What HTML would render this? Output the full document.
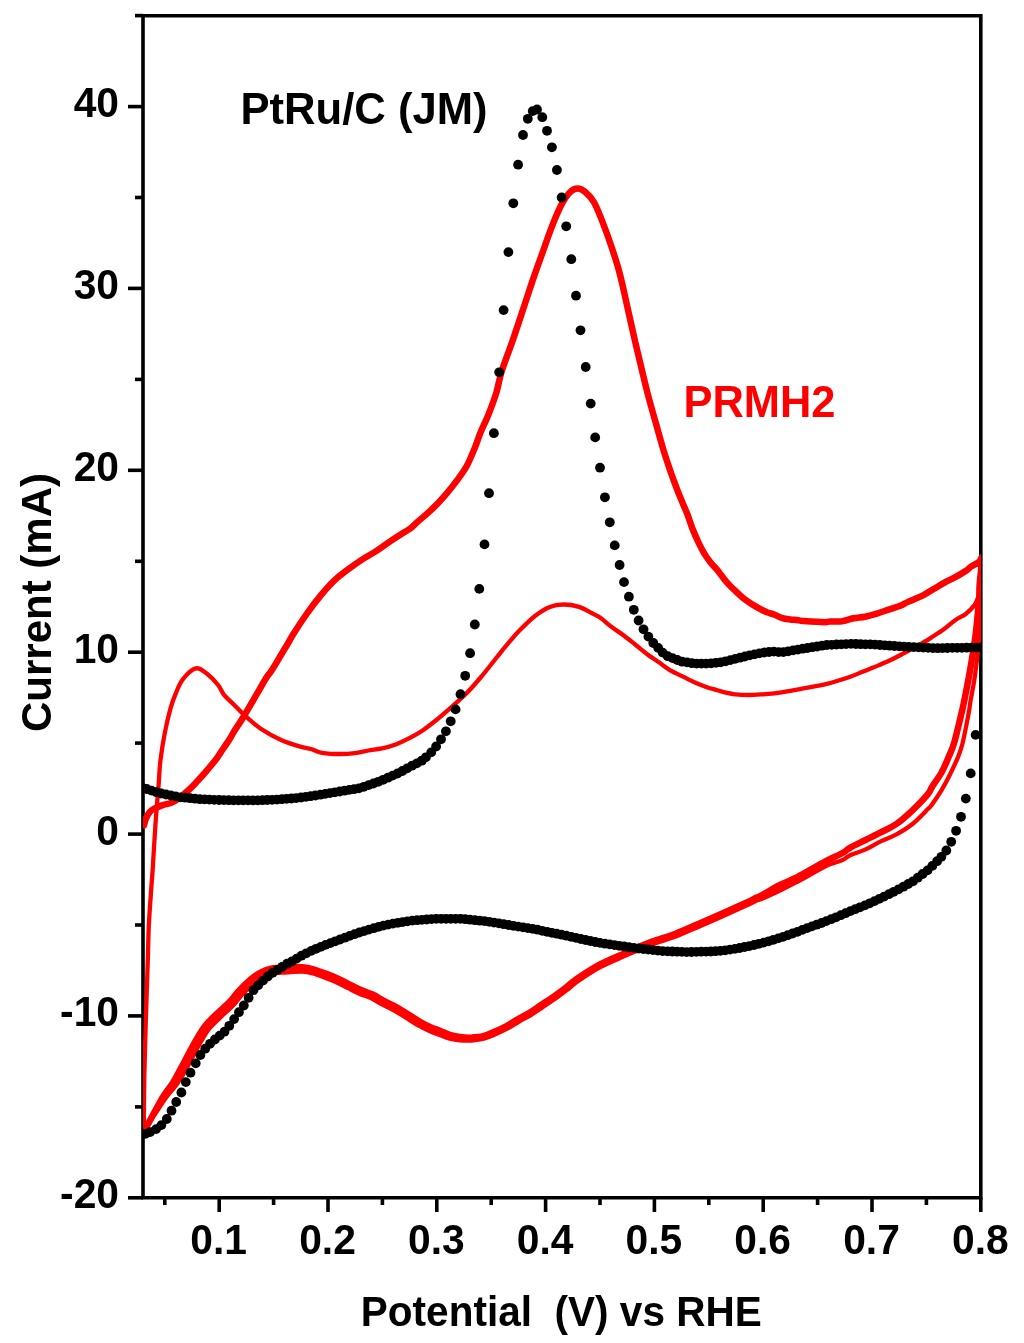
<!DOCTYPE html><html><head><meta charset="utf-8"><style>html,body{margin:0;padding:0;background:#fff;}svg{display:block;}text{font-family:"Liberation Sans",Arial,sans-serif;font-weight:bold;}</style></head><body>
<svg width="1024" height="1343" viewBox="0 0 1024 1343">
<rect width="1024" height="1343" fill="#fff"/>
<g stroke="#000" stroke-width="3.6" fill="none" stroke-linecap="butt">
<path d="M143,1197.8 V15.8 M141.2,15.8 H982.6 M980.8,14 V1197.8 M141.2,1197.8 H982.6"/>
<path d="M128.0,1197.8 H143"/>
<path d="M135.0,1106.9 H143"/>
<path d="M128.0,1015.9 H143"/>
<path d="M135.0,925.0 H143"/>
<path d="M128.0,834.1 H143"/>
<path d="M135.0,743.1 H143"/>
<path d="M128.0,652.2 H143"/>
<path d="M135.0,561.3 H143"/>
<path d="M128.0,470.3 H143"/>
<path d="M135.0,379.4 H143"/>
<path d="M128.0,288.4 H143"/>
<path d="M135.0,197.5 H143"/>
<path d="M128.0,106.6 H143"/>
<path d="M135.0,15.6 H143"/>
<path d="M164.8,1197.8 V1205.0"/>
<path d="M219.2,1197.8 V1212.0"/>
<path d="M273.6,1197.8 V1205.0"/>
<path d="M328.0,1197.8 V1212.0"/>
<path d="M382.4,1197.8 V1205.0"/>
<path d="M436.8,1197.8 V1212.0"/>
<path d="M491.2,1197.8 V1205.0"/>
<path d="M545.6,1197.8 V1212.0"/>
<path d="M600.0,1197.8 V1205.0"/>
<path d="M654.4,1197.8 V1212.0"/>
<path d="M708.8,1197.8 V1205.0"/>
<path d="M763.2,1197.8 V1212.0"/>
<path d="M817.6,1197.8 V1205.0"/>
<path d="M872.0,1197.8 V1212.0"/>
<path d="M926.4,1197.8 V1205.0"/>
<path d="M980.8,1197.8 V1212.0"/>
</g>
<defs><clipPath id="pc"><rect x="143" y="15.8" width="838" height="1182"/></clipPath></defs>
<g clip-path="url(#pc)">
<g fill="none" stroke="#ff0000" stroke-linejoin="round" stroke-linecap="round">
<path d="M143.9,825.4 C144.2,824.3 144.9,820.9 145.9,818.6 C146.9,816.3 148.2,813.6 149.8,811.8 C151.4,810.0 153.3,809.0 155.6,807.9 C157.9,806.8 160.5,805.9 163.4,804.9 C166.3,803.9 169.2,804.2 173.2,802.0 C177.1,799.8 183.1,795.0 187.1,791.5 C191.1,788.0 193.9,784.9 197.3,781.3 C200.7,777.6 204.4,773.4 207.6,769.6 C210.8,765.8 213.9,762.2 216.5,758.7 C219.1,755.2 221.0,751.9 223.3,748.5 C225.6,745.1 228.3,741.3 230.2,738.2 C232.1,735.1 232.8,733.3 234.9,730.0 C237.0,726.7 238.6,724.7 242.6,718.2 C246.6,711.7 254.8,697.5 258.7,690.9 C262.6,684.3 263.6,682.0 265.7,678.7 C267.8,675.4 269.3,673.9 271.1,671.2 C272.9,668.5 274.8,665.4 276.5,662.6 C278.2,659.8 279.7,657.2 281.3,654.5 C282.9,651.8 284.0,650.0 286.1,646.5 C288.2,643.0 290.2,639.1 293.7,633.5 C297.2,627.9 302.8,619.4 307.3,613.0 C311.9,606.6 316.4,600.7 321.0,595.2 C325.6,589.7 330.1,584.5 334.7,580.2 C339.3,575.9 343.8,572.6 348.4,569.2 C352.9,565.8 357.4,562.6 362.0,559.6 C366.6,556.6 371.1,554.4 375.7,551.4 C380.3,548.4 384.8,545.0 389.4,541.9 C393.9,538.8 399.5,535.2 403.0,533.0 C406.5,530.8 407.8,530.4 410.3,528.5 C412.8,526.6 414.5,524.6 418.1,521.4 C421.7,518.2 427.2,513.8 431.8,509.4 C436.4,505.0 441.3,499.7 445.5,494.8 C449.7,489.9 453.6,485.0 457.2,480.1 C460.8,475.2 464.1,470.9 467.0,465.5 C469.9,460.1 472.5,453.4 474.8,447.9 C477.1,442.4 478.3,437.8 480.6,432.3 C482.9,426.8 485.8,421.2 488.4,414.7 C491.0,408.2 494.1,400.3 496.2,393.2 C498.4,386.1 498.8,380.4 501.5,371.9 C504.2,363.3 508.6,352.3 512.2,341.9 C515.8,331.5 519.4,320.4 523.0,309.6 C526.6,298.9 530.1,287.8 533.7,277.4 C537.3,267.0 541.2,256.2 544.4,247.3 C547.6,238.4 550.1,230.8 553.0,223.7 C555.9,216.5 558.7,209.7 561.6,204.4 C564.5,199.1 567.5,194.7 570.2,192.0 C572.9,189.3 575.1,188.5 577.6,188.5 C580.1,188.5 582.6,189.7 585.3,192.0 C588.0,194.3 591.0,197.3 593.9,202.2 C596.8,207.1 599.5,214.4 602.4,221.6 C605.2,228.8 608.1,236.6 611.0,245.2 C613.9,253.8 616.9,262.7 619.6,273.1 C622.4,283.5 624.9,296.0 627.5,307.5 C630.1,319.0 632.8,331.5 635.2,341.9 C637.6,352.3 639.9,361.5 641.9,370.0 C643.9,378.5 645.2,384.2 647.5,393.0 C649.8,401.8 653.0,413.2 655.7,422.7 C658.4,432.2 661.1,442.2 663.5,450.1 C665.9,458.0 667.9,463.8 670.0,470.0 C672.1,476.2 674.4,482.2 676.4,487.6 C678.4,493.0 680.4,497.7 682.3,502.2 C684.1,506.7 685.9,510.3 687.5,514.5 C689.1,518.7 690.2,522.8 692.0,527.5 C693.8,532.2 696.5,538.2 698.5,542.5 C700.5,546.8 702.3,550.2 704.3,553.5 C706.2,556.8 708.2,559.4 710.2,562.0 C712.2,564.6 714.8,567.0 716.6,569.2 C718.5,571.4 719.4,572.9 721.3,575.3 C723.2,577.7 725.4,580.7 727.8,583.4 C730.2,586.1 733.0,588.8 735.6,591.2 C738.2,593.7 740.8,596.2 743.4,598.3 C746.0,600.4 748.6,602.1 751.2,603.8 C753.9,605.4 756.5,607.0 759.1,608.4 C761.7,609.8 764.3,611.2 766.9,612.3 C769.5,613.3 772.1,613.7 774.7,614.7 C777.3,615.7 779.9,617.4 782.5,618.2 C785.1,619.0 787.7,619.1 790.3,619.4 C792.9,619.7 795.9,619.9 798.1,620.2 C800.3,620.5 799.0,620.8 803.4,621.1 C807.8,621.4 820.1,622.2 824.5,622.2 C828.9,622.2 827.1,621.5 830.0,621.4 C832.9,621.3 837.8,621.9 841.7,621.4 C845.6,620.9 849.5,619.1 853.4,618.3 C857.3,617.5 861.3,617.5 865.2,616.7 C869.1,615.9 873.0,614.8 876.9,613.6 C880.8,612.4 884.7,611.0 888.6,609.7 C892.5,608.4 897.0,607.1 900.3,605.8 C903.5,604.5 904.3,603.6 908.1,601.9 C911.9,600.2 918.7,597.5 923.0,595.4 C927.3,593.2 930.1,591.1 933.7,589.0 C937.3,586.9 940.9,584.6 944.5,582.6 C948.1,580.6 951.6,579.2 955.2,577.2 C958.8,575.2 963.3,572.5 966.0,570.7 C968.7,568.9 969.2,567.8 971.3,566.4 C973.4,565.0 977.0,563.4 978.8,562.1 C980.6,560.8 981.9,554.7 982.0,558.5 C982.1,562.3 980.1,578.0 979.6,585.0 C979.1,592.0 979.8,591.7 979.0,600.6 C978.2,609.5 976.8,625.9 975.1,638.6 C973.4,651.3 970.7,666.4 968.9,676.6 C967.1,686.8 965.7,693.7 964.4,700.0 C963.1,706.3 962.9,707.6 961.2,714.6 C959.5,721.6 956.4,735.1 954.3,742.3 C952.2,749.5 950.5,752.5 948.4,757.6 C946.2,762.7 944.1,767.9 941.4,772.8 C938.7,777.7 934.2,783.4 932.0,786.9 C929.8,790.4 931.4,790.0 928.1,793.9 C924.9,797.8 917.7,805.3 912.5,810.3 C907.3,815.2 902.1,820.0 896.9,823.6 C891.7,827.2 886.5,829.5 881.2,832.2 C876.0,834.9 870.8,837.4 865.6,840.0 C860.4,842.6 853.9,845.6 850.0,847.8 C846.1,850.0 846.4,850.9 842.5,853.0 C838.6,855.1 832.1,858.0 826.9,860.7 C821.7,863.4 816.5,866.5 811.2,869.4 C806.0,872.3 800.8,875.4 795.6,878.0 C790.4,880.6 785.9,882.0 780.0,885.0 C774.1,888.0 763.9,894.2 760.0,896.2 C756.1,898.3 759.3,896.3 756.8,897.5 C754.4,898.6 751.0,900.5 745.2,903.3 C739.3,906.0 729.5,910.4 721.7,913.8 C713.9,917.3 706.1,920.7 698.3,924.0 C690.5,927.4 682.7,931.0 674.9,934.0 C667.1,937.0 659.8,938.7 651.4,941.9 C643.0,945.1 633.3,949.5 624.7,953.2 C616.0,957.0 607.6,960.3 599.6,964.6 C591.6,968.9 582.5,975.0 576.7,978.9 C571.0,982.9 568.9,985.4 565.0,988.3 C561.1,991.3 557.2,994.1 553.3,996.8 C549.4,999.6 545.4,1002.1 541.5,1004.7 C537.6,1007.3 533.8,1010.2 529.9,1012.6 C526.0,1015.0 522.1,1016.8 518.2,1019.1 C514.3,1021.3 510.4,1024.0 506.5,1026.1 C502.6,1028.2 498.8,1030.0 494.9,1031.6 C491.0,1033.3 487.1,1035.2 483.2,1036.2 C479.3,1037.2 475.5,1037.4 471.7,1037.6 C467.8,1037.7 463.6,1037.5 460.1,1037.1 C456.6,1036.7 454.0,1036.2 450.8,1035.2 C447.5,1034.2 443.9,1032.3 440.5,1030.9 C437.2,1029.6 433.9,1028.6 430.6,1027.2 C427.3,1025.7 424.5,1024.4 420.7,1022.2 C416.9,1020.1 412.0,1016.8 408.0,1014.3 C403.9,1011.7 400.1,1009.3 396.2,1007.1 C392.3,1005.0 388.4,1003.3 384.4,1001.2 C380.5,999.1 376.5,996.3 372.6,994.5 C368.7,992.6 364.8,991.8 360.9,990.1 C357.0,988.4 353.1,986.3 349.2,984.3 C345.4,982.4 341.4,980.2 337.5,978.4 C333.6,976.6 329.7,975.1 325.7,973.6 C321.8,972.2 317.6,970.6 313.8,969.5 C309.9,968.4 307.1,967.6 302.6,967.3 C298.1,966.9 292.1,967.1 286.8,967.4 C281.5,967.6 275.2,967.8 270.9,968.6 C266.6,969.4 264.4,970.5 261.1,972.3 C257.8,974.0 255.0,975.9 251.2,979.0 C247.5,982.2 242.2,987.3 238.6,991.2 C235.0,995.0 233.1,998.3 229.5,1002.1 C225.9,1005.8 221.2,1009.7 217.1,1013.6 C213.1,1017.5 208.7,1021.4 205.3,1025.7 C201.9,1029.9 199.8,1034.0 196.8,1039.0 C193.9,1044.0 190.3,1050.7 187.6,1055.8 C184.9,1060.8 182.9,1064.7 180.5,1069.1 C178.1,1073.6 175.8,1078.1 173.0,1082.7 C170.1,1087.2 166.2,1091.8 163.3,1096.4 C160.4,1100.9 158.1,1105.5 155.6,1110.0 C153.1,1114.5 149.8,1120.7 148.2,1123.6 C146.7,1126.5 146.7,1126.8 146.4,1127.4" stroke-width="6.5"/>
<path d="M143.8,1127.0 C143.9,1118.7 144.0,1095.3 144.3,1077.2 C144.7,1059.1 145.3,1038.1 145.9,1018.6 C146.5,999.1 147.3,975.4 147.8,960.0 C148.3,944.6 148.3,936.5 148.8,926.0 C149.3,915.5 150.0,906.1 150.7,896.7 C151.3,887.3 152.0,879.2 152.7,869.4 C153.3,859.6 153.9,848.2 154.6,838.1 C155.2,828.0 155.9,817.6 156.6,808.8 C157.3,800.0 157.9,793.5 158.6,785.4 C159.2,777.3 159.4,768.9 160.5,760.0 C161.6,751.1 163.3,740.5 165.0,731.9 C166.7,723.3 168.7,714.9 170.5,708.4 C172.3,701.9 173.9,697.7 176.0,692.8 C178.1,687.9 179.7,683.2 183.0,679.1 C186.3,675.0 191.8,669.4 195.7,668.4 C199.6,667.4 202.7,670.5 206.4,673.3 C210.1,676.1 215.2,681.4 218.1,685.0 C221.0,688.6 221.4,691.5 224.0,694.8 C226.6,698.0 230.2,700.9 233.8,704.5 C237.3,708.1 240.9,712.2 245.5,716.2 C250.1,720.3 255.3,725.1 261.1,729.0 C267.0,732.9 274.1,736.8 280.6,739.7 C287.1,742.6 295.1,745.1 300.2,746.6 C305.2,748.1 307.3,748.0 310.9,749.0 C314.5,750.0 316.9,752.0 321.9,752.8 C326.9,753.6 335.5,754.0 341.0,754.0 C346.5,754.0 350.1,753.7 354.7,753.1 C359.3,752.5 363.8,751.3 368.4,750.5 C372.9,749.7 377.4,749.3 382.0,748.3 C386.6,747.3 391.1,746.1 395.7,744.4 C400.3,742.7 404.8,740.6 409.4,738.2 C413.9,735.8 418.4,733.3 423.0,730.2 C427.6,727.1 431.6,723.9 436.7,719.8 C441.8,715.7 448.2,710.0 453.3,705.5 C458.4,701.0 462.4,697.5 467.0,692.8 C471.6,688.1 475.7,683.3 480.6,677.5 C485.5,671.7 492.0,663.3 496.2,658.0 C500.5,652.7 502.1,650.5 506.0,645.9 C509.9,641.3 514.8,635.3 519.7,630.3 C524.6,625.3 530.3,619.6 535.3,615.7 C540.3,611.8 545.1,608.8 549.8,606.9 C554.5,605.0 558.5,604.5 563.4,604.5 C568.3,604.5 574.5,605.5 579.1,606.9 C583.7,608.3 587.3,610.9 590.8,612.7 C594.3,614.5 596.5,615.2 600.0,617.6 C603.5,620.0 607.8,624.1 611.7,627.0 C615.6,629.9 619.5,632.3 623.4,635.2 C627.3,638.1 631.3,641.4 635.2,644.5 C639.1,647.6 643.0,651.0 646.9,653.9 C650.8,656.8 654.7,659.4 658.6,662.1 C662.5,664.8 666.4,667.9 670.3,670.3 C674.2,672.6 678.1,674.2 682.0,676.2 C685.9,678.2 689.8,680.2 693.8,682.0 C697.7,683.8 701.6,685.3 705.5,686.7 C709.4,688.1 714.5,689.4 717.2,690.2 C720.0,691.0 718.9,690.9 722.0,691.6 C725.1,692.3 731.1,693.7 735.7,694.3 C740.3,694.9 744.9,695.0 749.4,695.0 C753.9,695.0 758.5,694.6 763.0,694.3 C767.5,694.0 773.9,693.3 776.7,693.0 C779.5,692.7 775.5,693.4 780.0,692.6 C784.5,691.8 795.6,689.9 803.4,688.4 C811.2,686.9 819.1,685.7 826.9,683.8 C834.7,681.8 844.4,678.7 850.3,676.7 C856.1,674.7 858.1,673.6 862.0,672.0 C865.9,670.4 870.8,668.5 873.8,667.3 C876.8,666.1 877.2,665.9 880.0,664.7 C882.8,663.5 887.1,661.7 890.7,660.0 C894.3,658.3 897.9,656.4 901.5,654.5 C905.1,652.6 908.6,650.8 912.2,648.8 C915.8,646.8 919.4,644.8 923.0,642.7 C926.6,640.6 930.1,638.3 933.7,636.0 C937.3,633.7 940.9,631.4 944.5,628.8 C948.1,626.1 951.6,622.7 955.2,620.2 C958.8,617.7 962.8,616.2 966.0,613.7 C969.2,611.2 972.2,608.1 974.5,605.1 C976.8,602.1 978.6,594.9 979.5,596.0 C980.4,597.1 979.8,604.9 979.8,612.0 C979.8,619.1 980.0,627.8 979.2,638.6 C978.4,649.4 976.2,666.4 974.8,676.6 C973.4,686.8 971.8,693.7 970.7,700.0 C969.6,706.3 969.8,707.4 968.4,714.6 C967.0,721.9 964.3,736.3 962.5,743.5 C960.7,750.7 959.9,752.3 957.8,757.6 C955.6,762.9 952.3,769.7 949.6,775.2 C946.9,780.7 944.3,785.5 941.4,790.4 C938.5,795.3 934.2,801.4 932.0,804.5 C929.8,807.6 931.4,805.5 928.1,808.8 C924.9,812.0 917.7,819.8 912.5,824.0 C907.3,828.2 902.1,831.2 896.9,834.1 C891.7,837.0 886.5,838.6 881.2,841.1 C876.0,843.6 870.8,847.0 865.6,849.4 C860.4,851.8 853.9,853.4 850.0,855.2 C846.1,857.0 846.4,858.3 842.5,860.0 C838.6,861.7 832.1,863.1 826.9,865.5 C821.7,867.9 816.5,871.2 811.2,874.1 C806.0,877.0 800.8,880.0 795.6,882.7 C790.4,885.4 785.9,887.7 780.0,890.5 C774.1,893.3 763.7,898.0 760.0,899.5 C756.3,901.0 760.3,898.8 758.0,899.8 C755.7,900.8 752.1,902.9 746.3,905.6 C740.4,908.3 730.5,912.8 722.7,916.2 C714.9,919.7 707.1,923.1 699.3,926.4 C691.5,929.8 683.7,933.5 675.8,936.5 C668.0,939.4 660.7,941.2 652.3,944.4 C644.0,947.6 634.3,951.9 625.7,955.6 C617.1,959.4 608.8,962.6 600.8,966.9 C592.9,971.1 583.9,977.1 578.2,981.1 C572.5,985.0 570.5,987.4 566.6,990.4 C562.7,993.4 558.7,996.2 554.8,999.0 C550.8,1001.7 546.9,1004.2 543.0,1006.9 C539.1,1009.5 535.1,1012.4 531.2,1014.8 C527.3,1017.2 523.4,1019.1 519.5,1021.3 C515.6,1023.6 511.7,1026.2 507.7,1028.4 C503.8,1030.5 499.9,1032.3 495.9,1034.0 C491.9,1035.8 487.9,1037.6 483.8,1038.7 C479.8,1039.8 475.8,1040.2 471.8,1040.5 C467.8,1040.8 463.5,1040.7 459.8,1040.4 C456.1,1040.1 453.2,1039.6 449.7,1038.7 C446.3,1037.7 442.5,1036.0 439.1,1034.7 C435.6,1033.4 432.4,1032.3 429.0,1030.8 C425.6,1029.3 422.6,1027.9 418.7,1025.7 C414.9,1023.5 409.9,1020.2 405.9,1017.7 C401.8,1015.2 398.1,1012.8 394.3,1010.6 C390.4,1008.5 386.4,1006.8 382.5,1004.7 C378.7,1002.7 374.8,999.9 370.9,998.1 C367.0,996.3 363.2,995.4 359.3,993.7 C355.4,992.0 351.4,989.8 347.5,987.9 C343.6,985.9 339.7,983.8 335.8,982.0 C332.0,980.3 328.2,978.8 324.3,977.4 C320.5,975.9 316.4,974.3 312.7,973.4 C309.1,972.4 306.6,971.8 302.3,971.6 C298.1,971.5 292.1,972.0 287.1,972.3 C282.0,972.7 275.8,972.8 271.8,973.5 C267.9,974.2 266.3,975.1 263.4,976.7 C260.5,978.2 258.0,979.9 254.5,982.8 C250.9,985.8 245.8,990.8 242.2,994.6 C238.7,998.4 236.7,1001.7 233.1,1005.5 C229.5,1009.3 224.6,1013.3 220.6,1017.2 C216.6,1021.1 212.4,1024.7 209.2,1028.8 C205.9,1032.9 204.0,1036.7 201.1,1041.5 C198.3,1046.4 194.7,1053.1 192.0,1058.2 C189.3,1063.2 187.5,1067.1 184.9,1071.6 C182.2,1076.1 179.5,1080.5 176.3,1084.9 C173.1,1089.3 168.9,1093.7 165.8,1098.0 C162.6,1102.3 160.0,1106.6 157.2,1110.9 C154.3,1115.2 150.5,1121.1 148.8,1123.9 C147.1,1126.7 147.1,1127.0 146.7,1127.6" stroke-width="4.3"/>
</g>
<g fill="#000"><circle cx="141.9" cy="787.5" r="4.9"/><circle cx="146.7" cy="789.0" r="4.9"/><circle cx="151.5" cy="790.6" r="4.9"/><circle cx="156.4" cy="792.2" r="4.9"/><circle cx="161.2" cy="793.5" r="4.9"/><circle cx="166.0" cy="794.5" r="4.9"/><circle cx="170.8" cy="795.5" r="4.9"/><circle cx="175.7" cy="796.4" r="4.9"/><circle cx="180.5" cy="797.3" r="4.9"/><circle cx="185.3" cy="797.7" r="4.9"/><circle cx="190.1" cy="798.2" r="4.9"/><circle cx="194.9" cy="798.7" r="4.9"/><circle cx="199.8" cy="799.2" r="4.9"/><circle cx="204.6" cy="799.4" r="4.9"/><circle cx="209.4" cy="799.6" r="4.9"/><circle cx="214.2" cy="799.8" r="4.9"/><circle cx="219.1" cy="800.0" r="4.9"/><circle cx="223.9" cy="800.1" r="4.9"/><circle cx="228.7" cy="800.2" r="4.9"/><circle cx="233.5" cy="800.3" r="4.9"/><circle cx="238.4" cy="800.4" r="4.9"/><circle cx="243.2" cy="800.4" r="4.9"/><circle cx="248.0" cy="800.4" r="4.9"/><circle cx="252.8" cy="800.4" r="4.9"/><circle cx="257.7" cy="800.4" r="4.9"/><circle cx="262.5" cy="800.2" r="4.9"/><circle cx="267.3" cy="800.0" r="4.9"/><circle cx="272.1" cy="799.8" r="4.9"/><circle cx="276.9" cy="799.6" r="4.9"/><circle cx="281.8" cy="799.2" r="4.9"/><circle cx="286.6" cy="798.8" r="4.9"/><circle cx="291.4" cy="798.5" r="4.9"/><circle cx="296.2" cy="798.1" r="4.9"/><circle cx="301.1" cy="797.5" r="4.9"/><circle cx="305.9" cy="796.8" r="4.9"/><circle cx="310.7" cy="796.2" r="4.9"/><circle cx="315.5" cy="795.5" r="4.9"/><circle cx="320.4" cy="794.7" r="4.9"/><circle cx="325.2" cy="793.9" r="4.9"/><circle cx="330.0" cy="793.1" r="4.9"/><circle cx="334.8" cy="792.3" r="4.9"/><circle cx="339.7" cy="791.5" r="4.9"/><circle cx="344.5" cy="790.7" r="4.9"/><circle cx="349.3" cy="789.9" r="4.9"/><circle cx="354.1" cy="789.2" r="4.9"/><circle cx="358.9" cy="788.4" r="4.9"/><circle cx="363.8" cy="786.8" r="4.9"/><circle cx="368.6" cy="785.1" r="4.9"/><circle cx="373.4" cy="783.5" r="4.9"/><circle cx="378.2" cy="781.8" r="4.9"/><circle cx="383.1" cy="779.8" r="4.9"/><circle cx="387.9" cy="777.7" r="4.9"/><circle cx="392.7" cy="775.6" r="4.9"/><circle cx="397.5" cy="773.5" r="4.9"/><circle cx="402.4" cy="771.0" r="4.9"/><circle cx="407.2" cy="768.3" r="4.9"/><circle cx="412.0" cy="765.7" r="4.9"/><circle cx="416.8" cy="763.4" r="4.9"/><circle cx="421.7" cy="760.7" r="4.9"/><circle cx="667.7" cy="656.2" r="4.9"/><circle cx="672.5" cy="658.1" r="4.9"/><circle cx="677.3" cy="660.0" r="4.9"/><circle cx="682.1" cy="661.7" r="4.9"/><circle cx="687.0" cy="662.4" r="4.9"/><circle cx="691.8" cy="663.2" r="4.9"/><circle cx="696.6" cy="663.6" r="4.9"/><circle cx="701.4" cy="663.6" r="4.9"/><circle cx="706.2" cy="663.6" r="4.9"/><circle cx="711.1" cy="663.3" r="4.9"/><circle cx="715.9" cy="662.8" r="4.9"/><circle cx="720.7" cy="662.3" r="4.9"/><circle cx="725.5" cy="661.3" r="4.9"/><circle cx="730.4" cy="660.1" r="4.9"/><circle cx="735.2" cy="658.9" r="4.9"/><circle cx="740.0" cy="657.7" r="4.9"/><circle cx="744.8" cy="656.5" r="4.9"/><circle cx="749.7" cy="655.3" r="4.9"/><circle cx="754.5" cy="654.4" r="4.9"/><circle cx="759.3" cy="653.4" r="4.9"/><circle cx="764.1" cy="652.5" r="4.9"/><circle cx="769.0" cy="652.0" r="4.9"/><circle cx="773.8" cy="651.6" r="4.9"/><circle cx="778.6" cy="652.1" r="4.9"/><circle cx="783.4" cy="652.1" r="4.9"/><circle cx="788.2" cy="651.3" r="4.9"/><circle cx="793.1" cy="650.4" r="4.9"/><circle cx="797.9" cy="649.6" r="4.9"/><circle cx="802.7" cy="648.7" r="4.9"/><circle cx="807.5" cy="648.0" r="4.9"/><circle cx="812.4" cy="647.2" r="4.9"/><circle cx="817.2" cy="646.5" r="4.9"/><circle cx="822.0" cy="645.7" r="4.9"/><circle cx="826.8" cy="645.0" r="4.9"/><circle cx="831.7" cy="644.8" r="4.9"/><circle cx="836.5" cy="644.5" r="4.9"/><circle cx="841.3" cy="644.3" r="4.9"/><circle cx="846.1" cy="644.1" r="4.9"/><circle cx="851.0" cy="643.9" r="4.9"/><circle cx="855.8" cy="644.0" r="4.9"/><circle cx="860.6" cy="644.2" r="4.9"/><circle cx="865.4" cy="644.3" r="4.9"/><circle cx="870.3" cy="644.4" r="4.9"/><circle cx="875.1" cy="644.6" r="4.9"/><circle cx="879.9" cy="645.0" r="4.9"/><circle cx="884.7" cy="645.3" r="4.9"/><circle cx="889.5" cy="645.7" r="4.9"/><circle cx="894.4" cy="646.0" r="4.9"/><circle cx="899.2" cy="646.4" r="4.9"/><circle cx="904.0" cy="646.6" r="4.9"/><circle cx="908.8" cy="646.9" r="4.9"/><circle cx="913.7" cy="647.1" r="4.9"/><circle cx="918.5" cy="647.4" r="4.9"/><circle cx="923.3" cy="647.6" r="4.9"/><circle cx="928.1" cy="647.8" r="4.9"/><circle cx="933.0" cy="648.1" r="4.9"/><circle cx="937.8" cy="648.2" r="4.9"/><circle cx="942.6" cy="648.1" r="4.9"/><circle cx="947.4" cy="648.0" r="4.9"/><circle cx="952.3" cy="647.9" r="4.9"/><circle cx="957.1" cy="647.8" r="4.9"/><circle cx="961.9" cy="647.8" r="4.9"/><circle cx="966.7" cy="647.7" r="4.9"/><circle cx="971.5" cy="647.6" r="4.9"/><circle cx="976.4" cy="647.6" r="4.9"/><circle cx="981.2" cy="647.5" r="4.9"/><circle cx="425.9" cy="757.3" r="4.9"/><circle cx="431.2" cy="752.4" r="4.9"/><circle cx="436.1" cy="746.5" r="4.9"/><circle cx="441.0" cy="739.3" r="4.9"/><circle cx="445.9" cy="731.3" r="4.9"/><circle cx="450.7" cy="721.3" r="4.9"/><circle cx="455.6" cy="709.4" r="4.9"/><circle cx="460.5" cy="694.2" r="4.9"/><circle cx="465.2" cy="675.8" r="4.9"/><circle cx="470.1" cy="653.2" r="4.9"/><circle cx="474.8" cy="624.5" r="4.9"/><circle cx="479.3" cy="588.9" r="4.9"/><circle cx="484.5" cy="544.4" r="4.9"/><circle cx="489.0" cy="493.2" r="4.9"/><circle cx="493.9" cy="433.2" r="4.9"/><circle cx="499.2" cy="372.3" r="4.9"/><circle cx="503.6" cy="310.1" r="4.9"/><circle cx="508.4" cy="252.1" r="4.9"/><circle cx="513.3" cy="203.3" r="4.9"/><circle cx="518.1" cy="164.7" r="4.9"/><circle cx="523.0" cy="135.0" r="4.9"/><circle cx="527.8" cy="118.8" r="4.9"/><circle cx="532.7" cy="111.1" r="4.9"/><circle cx="537.0" cy="109.5" r="4.9"/><circle cx="542.3" cy="117.2" r="4.9"/><circle cx="547.0" cy="130.8" r="4.9"/><circle cx="551.9" cy="147.3" r="4.9"/><circle cx="556.9" cy="170.0" r="4.9"/><circle cx="561.6" cy="197.5" r="4.9"/><circle cx="566.2" cy="226.3" r="4.9"/><circle cx="571.3" cy="259.2" r="4.9"/><circle cx="576.0" cy="295.7" r="4.9"/><circle cx="580.5" cy="330.3" r="4.9"/><circle cx="585.7" cy="367.0" r="4.9"/><circle cx="590.7" cy="403.6" r="4.9"/><circle cx="595.2" cy="437.4" r="4.9"/><circle cx="600.0" cy="467.7" r="4.9"/><circle cx="604.9" cy="497.3" r="4.9"/><circle cx="609.8" cy="522.3" r="4.9"/><circle cx="614.7" cy="545.4" r="4.9"/><circle cx="619.6" cy="565.0" r="4.9"/><circle cx="624.0" cy="582.1" r="4.9"/><circle cx="628.9" cy="596.7" r="4.9"/><circle cx="633.8" cy="609.8" r="4.9"/><circle cx="638.6" cy="620.5" r="4.9"/><circle cx="643.5" cy="629.3" r="4.9"/><circle cx="648.4" cy="636.6" r="4.9"/><circle cx="653.3" cy="643.0" r="4.9"/><circle cx="658.2" cy="647.9" r="4.9"/><circle cx="662.6" cy="652.6" r="4.9"/><circle cx="937.1" cy="861.2" r="4.9"/><circle cx="932.3" cy="865.9" r="4.9"/><circle cx="927.5" cy="870.4" r="4.9"/><circle cx="922.6" cy="874.0" r="4.9"/><circle cx="917.8" cy="877.7" r="4.9"/><circle cx="913.0" cy="881.3" r="4.9"/><circle cx="908.2" cy="884.0" r="4.9"/><circle cx="903.4" cy="886.7" r="4.9"/><circle cx="898.6" cy="889.3" r="4.9"/><circle cx="893.7" cy="891.8" r="4.9"/><circle cx="888.9" cy="894.2" r="4.9"/><circle cx="884.1" cy="896.6" r="4.9"/><circle cx="879.3" cy="898.9" r="4.9"/><circle cx="874.5" cy="901.1" r="4.9"/><circle cx="869.7" cy="903.3" r="4.9"/><circle cx="864.9" cy="905.4" r="4.9"/><circle cx="860.0" cy="907.3" r="4.9"/><circle cx="855.2" cy="909.2" r="4.9"/><circle cx="850.4" cy="911.1" r="4.9"/><circle cx="845.6" cy="913.2" r="4.9"/><circle cx="840.8" cy="915.2" r="4.9"/><circle cx="836.0" cy="917.3" r="4.9"/><circle cx="831.2" cy="919.2" r="4.9"/><circle cx="826.3" cy="921.1" r="4.9"/><circle cx="821.5" cy="923.0" r="4.9"/><circle cx="816.7" cy="924.7" r="4.9"/><circle cx="811.9" cy="926.4" r="4.9"/><circle cx="807.1" cy="928.1" r="4.9"/><circle cx="802.3" cy="929.9" r="4.9"/><circle cx="797.5" cy="931.8" r="4.9"/><circle cx="792.6" cy="933.5" r="4.9"/><circle cx="787.8" cy="935.2" r="4.9"/><circle cx="783.0" cy="936.9" r="4.9"/><circle cx="778.2" cy="938.4" r="4.9"/><circle cx="773.4" cy="939.8" r="4.9"/><circle cx="768.6" cy="941.3" r="4.9"/><circle cx="763.7" cy="942.6" r="4.9"/><circle cx="758.9" cy="943.8" r="4.9"/><circle cx="754.1" cy="945.0" r="4.9"/><circle cx="749.3" cy="946.1" r="4.9"/><circle cx="744.5" cy="947.0" r="4.9"/><circle cx="739.7" cy="948.0" r="4.9"/><circle cx="734.9" cy="948.9" r="4.9"/><circle cx="730.0" cy="949.6" r="4.9"/><circle cx="725.2" cy="950.3" r="4.9"/><circle cx="720.4" cy="950.9" r="4.9"/><circle cx="715.6" cy="951.2" r="4.9"/><circle cx="710.8" cy="951.5" r="4.9"/><circle cx="706.0" cy="951.6" r="4.9"/><circle cx="701.2" cy="951.7" r="4.9"/><circle cx="696.3" cy="951.9" r="4.9"/><circle cx="691.5" cy="952.0" r="4.9"/><circle cx="686.7" cy="952.1" r="4.9"/><circle cx="681.9" cy="951.9" r="4.9"/><circle cx="677.1" cy="951.7" r="4.9"/><circle cx="672.3" cy="951.5" r="4.9"/><circle cx="667.5" cy="951.4" r="4.9"/><circle cx="662.6" cy="951.1" r="4.9"/><circle cx="657.8" cy="950.6" r="4.9"/><circle cx="653.0" cy="950.1" r="4.9"/><circle cx="648.2" cy="949.5" r="4.9"/><circle cx="643.4" cy="949.0" r="4.9"/><circle cx="638.6" cy="948.5" r="4.9"/><circle cx="633.7" cy="947.9" r="4.9"/><circle cx="628.9" cy="947.2" r="4.9"/><circle cx="624.1" cy="946.5" r="4.9"/><circle cx="619.3" cy="945.9" r="4.9"/><circle cx="614.5" cy="945.1" r="4.9"/><circle cx="609.7" cy="944.4" r="4.9"/><circle cx="604.9" cy="943.7" r="4.9"/><circle cx="600.0" cy="942.9" r="4.9"/><circle cx="595.2" cy="942.0" r="4.9"/><circle cx="590.4" cy="941.0" r="4.9"/><circle cx="585.6" cy="940.0" r="4.9"/><circle cx="580.8" cy="939.0" r="4.9"/><circle cx="576.0" cy="937.9" r="4.9"/><circle cx="571.2" cy="936.8" r="4.9"/><circle cx="566.3" cy="935.7" r="4.9"/><circle cx="561.5" cy="934.7" r="4.9"/><circle cx="556.7" cy="933.7" r="4.9"/><circle cx="551.9" cy="932.8" r="4.9"/><circle cx="547.1" cy="931.8" r="4.9"/><circle cx="542.3" cy="930.9" r="4.9"/><circle cx="537.5" cy="929.7" r="4.9"/><circle cx="532.6" cy="928.9" r="4.9"/><circle cx="527.8" cy="928.1" r="4.9"/><circle cx="523.0" cy="927.3" r="4.9"/><circle cx="518.2" cy="926.6" r="4.9"/><circle cx="513.4" cy="925.8" r="4.9"/><circle cx="508.6" cy="925.0" r="4.9"/><circle cx="503.7" cy="924.2" r="4.9"/><circle cx="498.9" cy="923.4" r="4.9"/><circle cx="494.1" cy="922.6" r="4.9"/><circle cx="489.3" cy="921.8" r="4.9"/><circle cx="484.5" cy="921.1" r="4.9"/><circle cx="479.7" cy="920.7" r="4.9"/><circle cx="474.9" cy="920.2" r="4.9"/><circle cx="470.0" cy="919.7" r="4.9"/><circle cx="465.2" cy="919.2" r="4.9"/><circle cx="460.4" cy="918.8" r="4.9"/><circle cx="455.6" cy="918.8" r="4.9"/><circle cx="450.8" cy="918.8" r="4.9"/><circle cx="446.0" cy="918.8" r="4.9"/><circle cx="441.2" cy="918.8" r="4.9"/><circle cx="436.3" cy="918.8" r="4.9"/><circle cx="431.5" cy="919.1" r="4.9"/><circle cx="426.7" cy="919.5" r="4.9"/><circle cx="421.9" cy="919.9" r="4.9"/><circle cx="417.1" cy="920.2" r="4.9"/><circle cx="412.3" cy="920.6" r="4.9"/><circle cx="407.5" cy="921.3" r="4.9"/><circle cx="402.6" cy="922.1" r="4.9"/><circle cx="397.8" cy="922.8" r="4.9"/><circle cx="393.0" cy="923.6" r="4.9"/><circle cx="388.2" cy="924.6" r="4.9"/><circle cx="383.4" cy="925.6" r="4.9"/><circle cx="378.6" cy="926.9" r="4.9"/><circle cx="373.8" cy="928.2" r="4.9"/><circle cx="368.9" cy="929.6" r="4.9"/><circle cx="364.1" cy="931.1" r="4.9"/><circle cx="359.3" cy="932.5" r="4.9"/><circle cx="354.5" cy="934.2" r="4.9"/><circle cx="349.7" cy="935.9" r="4.9"/><circle cx="344.9" cy="937.7" r="4.9"/><circle cx="340.0" cy="939.5" r="4.9"/><circle cx="335.2" cy="941.3" r="4.9"/><circle cx="330.4" cy="943.1" r="4.9"/><circle cx="325.6" cy="944.9" r="4.9"/><circle cx="320.8" cy="946.9" r="4.9"/><circle cx="316.0" cy="948.8" r="4.9"/><circle cx="311.2" cy="950.9" r="4.9"/><circle cx="306.3" cy="953.3" r="4.9"/><circle cx="301.5" cy="955.7" r="4.9"/><circle cx="296.7" cy="958.6" r="4.9"/><circle cx="291.9" cy="961.5" r="4.9"/><circle cx="287.1" cy="963.7" r="4.9"/><circle cx="282.3" cy="966.8" r="4.9"/><circle cx="277.5" cy="969.8" r="4.9"/><circle cx="272.6" cy="972.8" r="4.9"/><circle cx="267.8" cy="976.5" r="4.9"/><circle cx="263.0" cy="980.6" r="4.9"/><circle cx="258.2" cy="985.3" r="4.9"/><circle cx="253.4" cy="990.2" r="4.9"/><circle cx="248.6" cy="997.8" r="4.9"/><circle cx="243.8" cy="1005.5" r="4.9"/><circle cx="238.9" cy="1012.2" r="4.9"/><circle cx="234.1" cy="1019.1" r="4.9"/><circle cx="229.3" cy="1025.8" r="4.9"/><circle cx="224.5" cy="1031.7" r="4.9"/><circle cx="219.7" cy="1035.6" r="4.9"/><circle cx="214.9" cy="1039.5" r="4.9"/><circle cx="210.0" cy="1043.8" r="4.9"/><circle cx="205.2" cy="1048.7" r="4.9"/><circle cx="975.6" cy="734.9" r="4.9"/><circle cx="970.7" cy="773.4" r="4.9"/><circle cx="965.8" cy="798.6" r="4.9"/><circle cx="961.0" cy="816.8" r="4.9"/><circle cx="956.1" cy="830.8" r="4.9"/><circle cx="951.2" cy="841.8" r="4.9"/><circle cx="946.3" cy="850.5" r="4.9"/><circle cx="941.4" cy="856.8" r="4.9"/><circle cx="200.4" cy="1055.0" r="4.9"/><circle cx="195.7" cy="1063.3" r="4.9"/><circle cx="190.5" cy="1072.7" r="4.9"/><circle cx="185.8" cy="1082.1" r="4.9"/><circle cx="181.4" cy="1092.5" r="4.9"/><circle cx="176.2" cy="1102.0" r="4.9"/><circle cx="171.5" cy="1110.7" r="4.9"/><circle cx="166.8" cy="1119.0" r="4.9"/><circle cx="161.4" cy="1125.1" r="4.9"/><circle cx="156.1" cy="1129.1" r="4.9"/><circle cx="150.1" cy="1132.1" r="4.9"/><circle cx="145.4" cy="1133.8" r="4.9"/></g>
</g>
<g fill="#000" font-size="42">
<text transform="translate(119,1208.2) scale(0.96,1)" text-anchor="end" font-size="42.5">-20</text>
<text transform="translate(119,1026.3) scale(0.96,1)" text-anchor="end" font-size="42.5">-10</text>
<text transform="translate(119,844.5) scale(0.96,1)" text-anchor="end" font-size="42.5">0</text>
<text transform="translate(119,662.6) scale(0.96,1)" text-anchor="end" font-size="42.5">10</text>
<text transform="translate(119,480.7) scale(0.96,1)" text-anchor="end" font-size="42.5">20</text>
<text transform="translate(119,298.8) scale(0.96,1)" text-anchor="end" font-size="42.5">30</text>
<text transform="translate(119,117.0) scale(0.96,1)" text-anchor="end" font-size="42.5">40</text>
<text transform="translate(218.7,1254) scale(0.96,1)" text-anchor="middle" font-size="42.5">0.1</text>
<text transform="translate(327.5,1254) scale(0.96,1)" text-anchor="middle" font-size="42.5">0.2</text>
<text transform="translate(436.3,1254) scale(0.96,1)" text-anchor="middle" font-size="42.5">0.3</text>
<text transform="translate(545.1,1254) scale(0.96,1)" text-anchor="middle" font-size="42.5">0.4</text>
<text transform="translate(653.9,1254) scale(0.96,1)" text-anchor="middle" font-size="42.5">0.5</text>
<text transform="translate(762.7,1254) scale(0.96,1)" text-anchor="middle" font-size="42.5">0.6</text>
<text transform="translate(871.5,1254) scale(0.96,1)" text-anchor="middle" font-size="42.5">0.7</text>
<text transform="translate(980.3,1254) scale(0.96,1)" text-anchor="middle" font-size="42.5">0.8</text>
<text x="360.8" y="1325.5" xml:space="preserve" textLength="401" lengthAdjust="spacingAndGlyphs">Potential  (V) vs RHE</text>
<text transform="translate(50.8,732) rotate(-90)" textLength="259" lengthAdjust="spacingAndGlyphs">Current (mA)</text>
</g>
<text x="240.5" y="123.5" font-size="44" fill="#000" textLength="247" lengthAdjust="spacingAndGlyphs">PtRu/C (JM)</text>
<text x="683.5" y="416.8" font-size="44.5" fill="#ff0000" textLength="152" lengthAdjust="spacingAndGlyphs">PRMH2</text>
</svg></body></html>
